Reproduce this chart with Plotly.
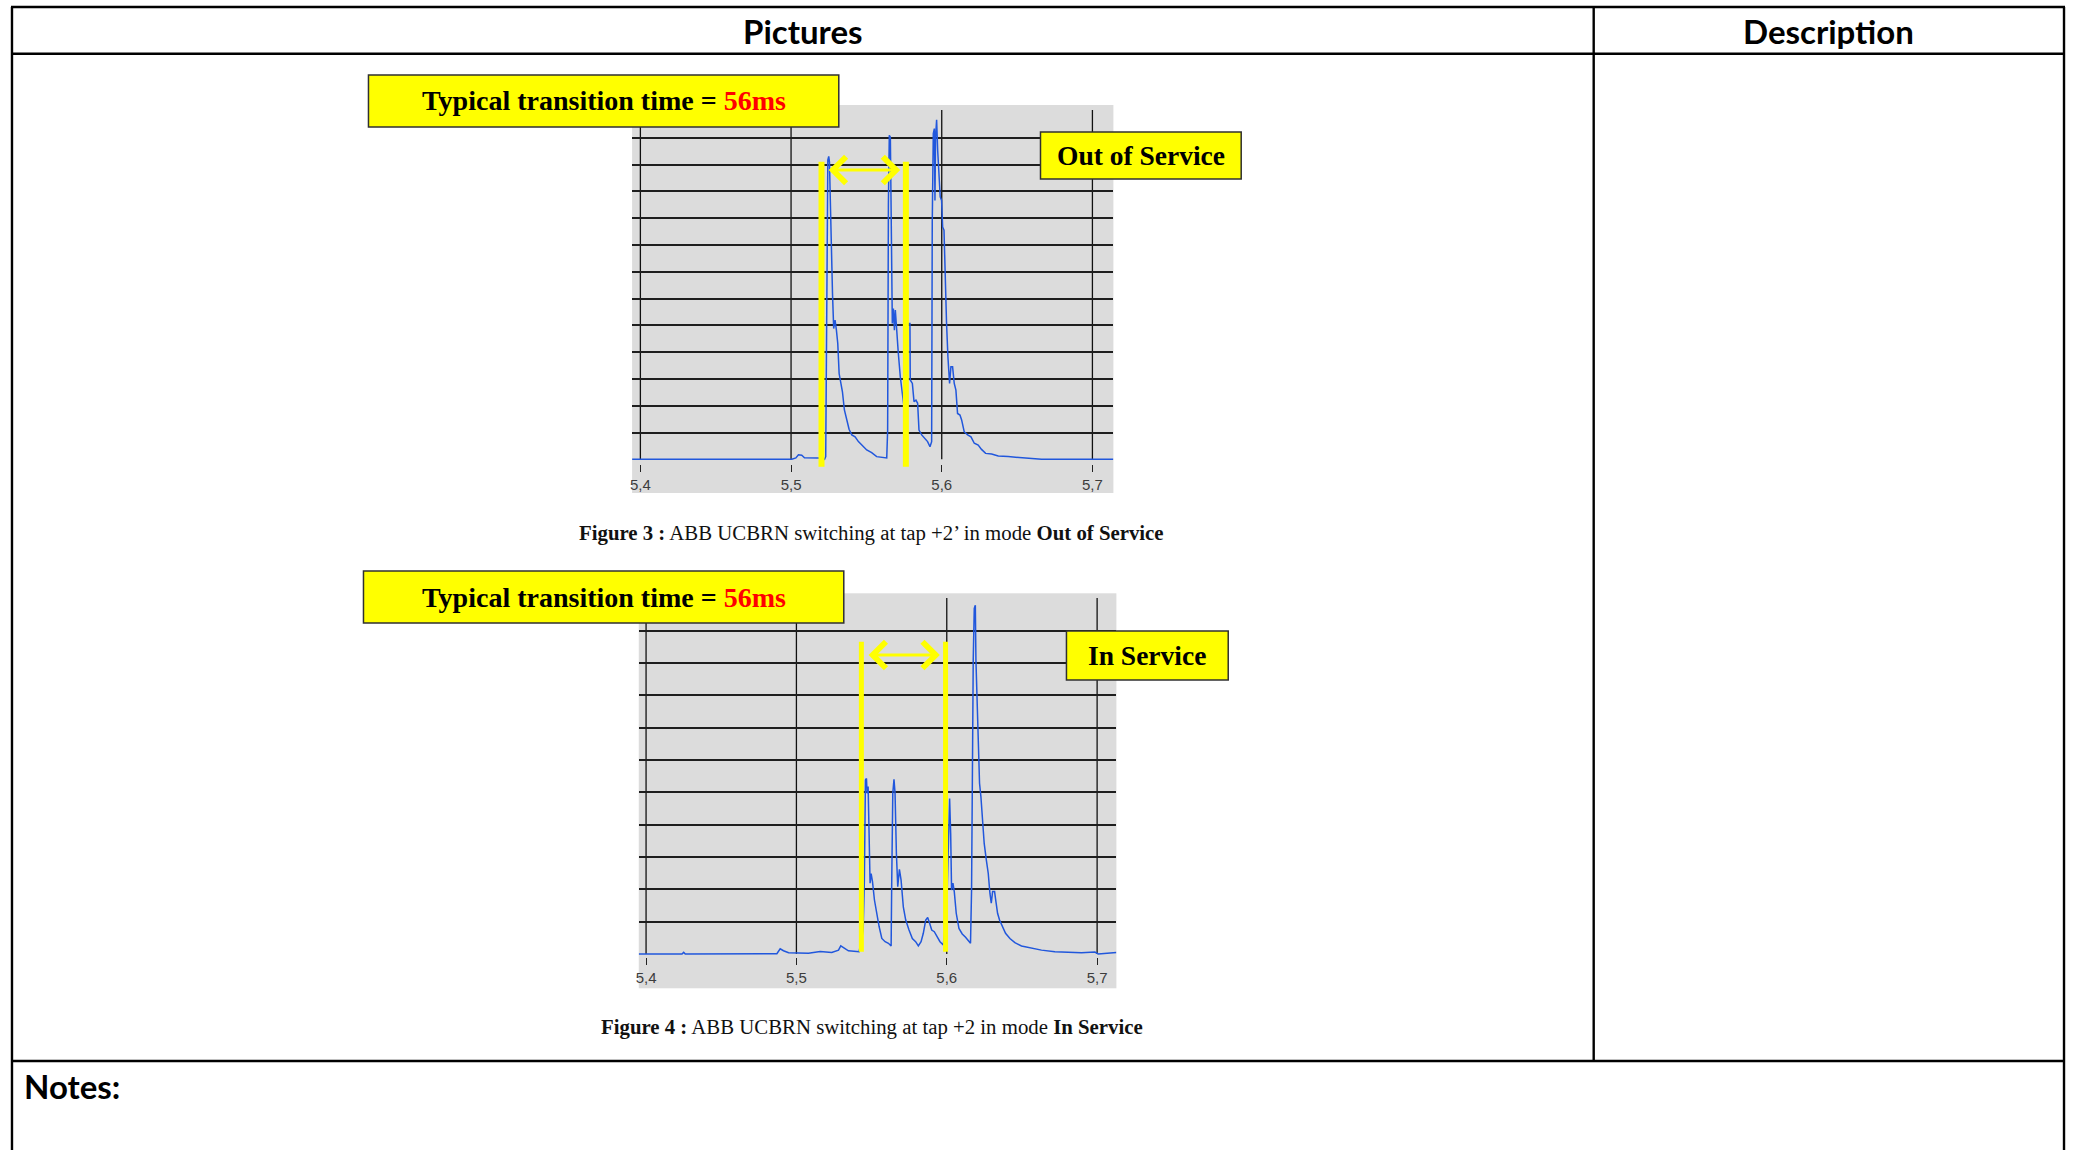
import plotly.graph_objects as go

# ---------------- data ----------------
headers = ["Pictures", "Description"]
notes_label = "Notes:"

x_tick_vals = [5.4, 5.5, 5.6, 5.7]
x_tick_text = ["5,4", "5,5", "5,6", "5,7"]

# Figure 3 - tap +2' in mode Out of Service (time in s, amplitude in grid divisions)
fig3_time = [
    5.3945, 5.5005, 5.5032, 5.5049, 5.5071, 5.5089, 5.5182, 5.5222, 5.5230, 5.5237,
    5.5244, 5.5250, 5.5255, 5.5259, 5.5266, 5.5275, 5.5283, 5.5292, 5.5301, 5.5310,
    5.5319, 5.5332, 5.5341, 5.5354, 5.5372, 5.5385, 5.5403, 5.5425, 5.5447, 5.5473,
    5.5502, 5.5535, 5.5568, 5.5635, 5.5641, 5.5646, 5.5652, 5.5659, 5.5666, 5.5672,
    5.5679, 5.5686, 5.5692, 5.5701, 5.5712, 5.5725, 5.5739, 5.5752, 5.5769, 5.5789,
    5.5791, 5.5805, 5.5816, 5.5829, 5.5840, 5.5849, 5.5867, 5.5889, 5.5906, 5.5922,
    5.5933, 5.5937, 5.5944, 5.5951, 5.5955, 5.5959, 5.5966, 5.5973, 5.5982, 5.5990,
    5.5999, 5.6006, 5.6015, 5.6024, 5.6032, 5.6041, 5.6052, 5.6061, 5.6072, 5.6083,
    5.6094, 5.6105, 5.6121, 5.6132, 5.6149, 5.6172, 5.6194, 5.6216, 5.6242, 5.6264,
    5.6291, 5.6331, 5.6375, 5.6441, 5.6529, 5.6640, 5.6662, 5.7139,
]
fig3_amp = [
    0, 0, 0.05, 0.17, 0.15, 0.06, 0.05, 0.0, 0.10, 6.31,
    11.16, 11.30, 11.09, 10.04, 7.80, 6.19, 4.88, 5.19, 4.82, 4.32,
    3.20, 2.71, 2.52, 1.84, 1.47, 1.12, 0.91, 0.84, 0.66, 0.50,
    0.35, 0.25, 0.10, 0.05, 1.09, 9.54, 12.09, 12.02, 7.80, 5.07,
    5.63, 4.82, 5.57, 4.70, 3.95, 3.08, 2.34, 1.84, 5.07, 5.07,
    2.96, 2.83, 2.15, 2.21, 2.09, 1.09, 0.91, 0.78, 0.66, 0.47,
    0.66, 8.80, 12.15, 12.34, 9.66, 12.02, 12.67, 11.53, 10.66, 9.79,
    9.66, 8.67, 8.55, 6.31, 5.07, 3.83, 2.83, 3.45, 3.45, 2.83,
    2.58, 1.71, 1.65, 1.47, 1.03, 0.91, 0.84, 0.60, 0.53, 0.37,
    0.22, 0.20, 0.12, 0.10, 0.06, 0.02, 0, 0,
]

# Figure 4 - tap +2 in mode In Service
fig4_time = [
    5.3951, 5.4239, 5.4250, 5.4261, 5.4870, 5.4892, 5.4914, 5.4948, 5.5080, 5.5158,
    5.5235, 5.5280, 5.5295, 5.5313, 5.5346, 5.5417, 5.5444, 5.5452, 5.5459, 5.5466,
    5.5470, 5.5477, 5.5483, 5.5490, 5.5497, 5.5506, 5.5519, 5.5534, 5.5550, 5.5568,
    5.5590, 5.5612, 5.5630, 5.5634, 5.5641, 5.5649, 5.5656, 5.5665, 5.5674, 5.5685,
    5.5696, 5.5711, 5.5727, 5.5749, 5.5771, 5.5793, 5.5811, 5.5829, 5.5844, 5.5860,
    5.5873, 5.5886, 5.5900, 5.5917, 5.5933, 5.5955, 5.5977, 5.5999, 5.6019, 5.6026,
    5.6032, 5.6041, 5.6050, 5.6063, 5.6081, 5.6103, 5.6125, 5.6147, 5.6158, 5.6165,
    5.6170, 5.6176, 5.6183, 5.6190, 5.6194, 5.6201, 5.6210, 5.6218, 5.6227, 5.6238,
    5.6249, 5.6263, 5.6276, 5.6287, 5.6296, 5.6305, 5.6318, 5.6327, 5.6338, 5.6351,
    5.6369, 5.6391, 5.6420, 5.6453, 5.6497, 5.6564, 5.6630, 5.6719, 5.6896, 5.6985,
    5.7007, 5.7128,
]
fig4_amp = [
    0, 0, 0.05, 0, 0.01, 0.16, 0.10, 0.04, 0.02, 0.08,
    0.05, 0.12, 0.25, 0.19, 0.10, 0.07, 0.74, 2.29, 5.38, 5.43,
    4.97, 5.18, 3.11, 2.19, 2.49, 2.24, 1.67, 1.26, 0.85, 0.48,
    0.38, 0.33, 0.25, 2.29, 4.97, 5.40, 4.97, 3.11, 2.08, 2.62,
    2.29, 1.46, 1.05, 0.74, 0.48, 0.38, 0.25, 0.38, 0.64, 1.05,
    1.13, 0.95, 0.74, 0.69, 0.54, 0.38, 0.28, 1.26, 4.81, 3.72,
    1.98, 2.19, 1.93, 1.26, 0.79, 0.62, 0.52, 0.38, 0.33, 1.98,
    7.44, 9.09, 10.69, 10.79, 9.09, 8.16, 6.41, 5.28, 4.87, 4.14,
    3.42, 2.91, 2.49, 1.88, 1.57, 1.93, 1.93, 1.62, 1.26, 1.05,
    0.85, 0.64, 0.48, 0.35, 0.25, 0.18, 0.12, 0.07, 0.04, 0.06,
    0, 0.05,
]

transition_start = [5.5202, 5.5432]   # s, start of the transition window
transition_ms = [56, 56]              # typical transition time
mode_labels = ["Out of Service", "In Service"]
captions = [
    "<b>Figure 3 :</b> ABB UCBRN switching at tap +2\u2019 in mode <b>Out of Service</b>",
    "<b>Figure 4 :</b> ABB UCBRN switching at tap +2 in mode <b>In Service</b>",
]

# ---------------- page geometry (pixels) ----------------
W, H = 2073, 1150


def fx(px):
    return px / W


def fy(py):
    return 1 - py / H


# each panel: grey plot box, tick pixel positions, baseline / division pixels
panels = [
    dict(time=fig3_time, amp=fig3_amp, left=630, right=1112, top=105, bottom=493,
         tick_lo_px=638.3, tick_hi_px=1091.0, base_px=459.3, div_px=26.8,
         axis_px=464.0, vline_top_px=110, n_grid=12,
         bar_top_px=161.7, bar_bot_px=466.7, bar_w=6, arrow_px=170,
         title_box=(366, 75, 837, 127), mode_box=(1039, 132, 1240, 179),
         caption_y=533),
    dict(time=fig4_time, amp=fig4_amp, left=636.7, right=1115, top=593.3, bottom=988.3,
         tick_lo_px=644.0, tick_hi_px=1095.7, base_px=954.0, div_px=32.33,
         axis_px=957.0, vline_top_px=598, n_grid=10,
         bar_top_px=641.7, bar_bot_px=951.7, bar_w=5, arrow_px=655,
         title_box=(361, 571, 842, 623), mode_box=(1065, 631, 1227, 680),
         caption_y=1027),
]

TRACE_BLUE = "#2157dc"
YELLOW = "#ffff00"
BOX_EDGE = "#303030"
SERIF = "Liberation Serif"

fig = go.Figure()
shapes = []
annotations = []
layout_axes = {}

for i, p in enumerate(panels):
    n = "" if i == 0 else str(i + 1)
    xname, yname = "x" + n, "y" + n

    # x scale from tick pixels
    sec_per_px = (x_tick_vals[-1] - x_tick_vals[0]) / (p["tick_hi_px"] - p["tick_lo_px"])
    x0 = x_tick_vals[0] - (p["tick_lo_px"] - p["left"]) * sec_per_px
    x1 = x_tick_vals[-1] + (p["right"] - p["tick_hi_px"]) * sec_per_px

    def yv(py, p=p):
        return (p["base_px"] - py) / p["div_px"]

    fig.add_trace(go.Scatter(
        x=p["time"], y=p["amp"], mode="lines",
        line=dict(color=TRACE_BLUE, width=1.5),
        xaxis=xname, yaxis=yname, hoverinfo="skip", showlegend=False,
    ))

    layout_axes["xaxis" + n] = dict(
        domain=[fx(p["left"]), fx(p["right"])], range=[x0, x1],
        anchor="free", position=fy(p["axis_px"]),
        tickvals=x_tick_vals, ticktext=x_tick_text,
        ticks="outside", ticklen=7, tickwidth=1.3, tickcolor="#222222",
        tickfont=dict(family="Liberation Sans", size=15, color="#3c3c3c"),
        showgrid=False, zeroline=False, showline=False, fixedrange=True,
    )
    layout_axes["yaxis" + n] = dict(
        domain=[fy(p["bottom"]), fy(p["top"])],
        range=[yv(p["bottom"]), yv(p["top"])], anchor=xname,
        tickvals=list(range(1, p["n_grid"] + 1)),
        showticklabels=False, ticks="",
        showgrid=True, gridcolor="#1e1e1e", gridwidth=2.4,
        zeroline=False, showline=False, fixedrange=True,
    )

    # vertical division lines at the time ticks
    for tv in x_tick_vals:
        shapes.append(dict(type="line", xref=xname, yref=yname,
                           x0=tv, x1=tv, y0=0, y1=yv(p["vline_top_px"]),
                           line=dict(color="#111111", width=1.3), layer="below"))

    # transition window markers
    t_a = transition_start[i]
    t_b = t_a + transition_ms[i] / 1000.0
    for t in (t_a, t_b):
        shapes.append(dict(type="line", xref=xname, yref=yname,
                           x0=t, x1=t, y0=yv(p["bar_bot_px"]), y1=yv(p["bar_top_px"]),
                           line=dict(color=YELLOW, width=p["bar_w"]), layer="above"))
    pad = 5.7 * sec_per_px
    annotations.append(dict(
        xref=xname, yref=yname, axref=xname, ayref=yname,
        x=t_b - pad, y=yv(p["arrow_px"]), ax=t_a + pad, ay=yv(p["arrow_px"]),
        text="", showarrow=True, arrowside="end+start",
        arrowhead=4, startarrowhead=4, arrowsize=1.6, startarrowsize=1.6,
        arrowwidth=3.2, arrowcolor=YELLOW, standoff=0, startstandoff=0,
    ))

    # label boxes
    for (bx0, by0, bx1, by1) in (p["title_box"], p["mode_box"]):
        shapes.append(dict(type="rect", xref="paper", yref="paper",
                           x0=fx(bx0), x1=fx(bx1), y0=fy(by1), y1=fy(by0),
                           fillcolor=YELLOW, line=dict(color=BOX_EDGE, width=1.5),
                           layer="above"))
    tb = p["title_box"]
    annotations.append(dict(
        xref="paper", yref="paper", x=fx((tb[0] + tb[2]) / 2), y=fy((tb[1] + tb[3]) / 2),
        xanchor="center", yanchor="middle", showarrow=False,
        text=("<b>Typical transition time = "
              f"<span style='color:#ff0000'>{transition_ms[i]}ms</span></b>"),
        font=dict(family=SERIF, size=28, color="#000000"),
    ))
    mb = p["mode_box"]
    annotations.append(dict(
        xref="paper", yref="paper", x=fx((mb[0] + mb[2]) / 2), y=fy((mb[1] + mb[3]) / 2),
        xanchor="center", yanchor="middle", showarrow=False,
        text=f"<b>{mode_labels[i]}</b>",
        font=dict(family=SERIF, size=27.5, color="#000000"),
    ))
    annotations.append(dict(
        xref="paper", yref="paper", x=fx(870), y=fy(p["caption_y"]),
        xanchor="center", yanchor="middle", showarrow=False,
        text=captions[i], font=dict(family=SERIF, size=20.8, color="#111111"),
    ))

# ---------------- table frame ----------------
TOP, LEFT, RIGHT, HEAD, SPLIT, NOTES = 7, 9, 2064, 53.8, 1593, 1061
frame = [
    (LEFT - 1, TOP, RIGHT + 1, TOP),
    (LEFT, TOP, LEFT, H + 5),
    (RIGHT, TOP, RIGHT, H + 5),
    (LEFT, HEAD, RIGHT, HEAD),
    (SPLIT, TOP, SPLIT, NOTES),
    (LEFT, NOTES, RIGHT, NOTES),
]
for (ax0, ay0, ax1, ay1) in frame:
    shapes.append(dict(type="line", xref="paper", yref="paper",
                       x0=fx(ax0), x1=fx(ax1), y0=fy(ay0), y1=fy(ay1),
                       line=dict(color="#000000", width=2.4), layer="above"))

HEAD_FONT = dict(family="Lato", size=33, color="#000000")
annotations.append(dict(xref="paper", yref="paper", x=fx((LEFT + SPLIT) / 2), y=fy(31),
                        xanchor="center", yanchor="middle", showarrow=False,
                        text=f"<b>{headers[0]}</b>", font=HEAD_FONT))
annotations.append(dict(xref="paper", yref="paper", x=fx((SPLIT + RIGHT) / 2), y=fy(31),
                        xanchor="center", yanchor="middle", showarrow=False,
                        text=f"<b>{headers[1]}</b>", font=HEAD_FONT))
annotations.append(dict(xref="paper", yref="paper", x=fx(19), y=fy(1086),
                        xanchor="left", yanchor="middle", showarrow=False,
                        text=f"<b>{notes_label}</b>", font=HEAD_FONT))

fig.update_layout(
    width=W, height=H, autosize=False,
    margin=dict(l=0, r=0, t=0, b=0, pad=0),
    paper_bgcolor="#ffffff", plot_bgcolor="#dcdcdc",
    shapes=shapes, annotations=annotations, showlegend=False,
    **layout_axes,
)

fig.write_html("out.html", config=dict(displayModeBar=False))
